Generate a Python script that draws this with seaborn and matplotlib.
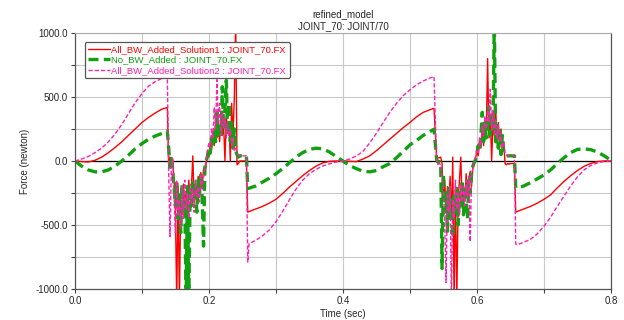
import numpy as np
import pandas as pd
import matplotlib
matplotlib.use("Agg")
import matplotlib.pyplot as plt
import seaborn as sns

# time samples (sec): smooth parts coarse, impact (chatter) parts fine
time_a = np.round(np.arange(0.0, 0.135, 0.01), 3).tolist() + [0.138]
time_hit1 = np.round(np.arange(0.140, 0.2565, 0.002), 3).tolist() + [0.258, 0.260]
time_b = np.round(np.arange(0.27, 0.535, 0.01), 3).tolist() + [0.536]
time_hit2 = np.round(np.arange(0.540, 0.6565, 0.002), 3).tolist() + [0.658, 0.660]
time_c = np.round(np.arange(0.67, 0.805, 0.01), 3).tolist()

# All_BW_Added_Solution1 (newton)
sol1_a = [0, -5, -8, 5, 30, 65, 105, 150, 200, 250, 300, 340, 375, 405, 418]
sol1_hit1 = [-20, 30, -40, 10,
             -150, -380, -1100, -200, -1100, -300, -420, -180, -350, -240, -400, -150,
             -300, -200, 40, -330, -170, -280, -120, -250, -90, -200, -60, -110,
             -20,
             60, 30, 150, 90, 220, 120, 300, 180, 260, 150, 330, 200, 280, 0, 350,
             220, 300, 0, 450, 200, 500, 1100,
             -30, -20, 0, 0, 0, 0, 0, 0,
             -400, -395]
sol1_b = [-375, -355, -330, -300, -255, -205, -160, -115, -75, -40, -15, -3, 0, 0,
          -3, -5, 15, 40, 80, 125, 170, 215, 260, 300, 345, 380, 400, 412]
sol1_hit2 = [20, 25, 25, 30, -20,
             -300, -150, -400, -200, -350, -120, -450, 30, -1100, -200, -1100, -300,
             -150, 30, -350, -200, -300, -100, -250, -150, -80, -200, -50, -30,
             20, 80, 40, 150, 100, 250, 120, 300, 200, 800, 180, 350, 0, 280, 200,
             420, 150, 300, 100, 250, 60, 150, -20, -30,
             -20, -25, -20, -20, -20, -20,
             -400, -395]
sol1_c = [-375, -355, -330, -300, -265, -210, -160, -115, -75, -42, -18, -5, 0, 0]

# No_BW_Added
nobw_a = [0, -40, -70, -85, -85, -70, -40, 0, 45, 95, 135, 170, 195, 215, 235]
nobw_hit1 = [100, -50, 20, -80,
             -200, -350, -150, -450, -250, -560, -180, -400, -300, -1100, -200, -1100,
             -250, -350, -150, -300, -200, -400, -150, -250, -100, -300, -665, -50,
             0,
             40, 100, 60, 180, 120, 250, 150, 380, 200, 300, 180, 580, 250, 400, 630,
             200, 450, 150, 300, 100, 250, 80,
             50, 30, 40, 40, 40, 40, 40, 40,
             -215, -213]
nobw_b = [-195, -165, -135, -100, -60, -15, 30, 65, 90, 100, 95, 70, 35, 0,
          -35, -60, -80, -85, -75, -45, -20, 25, 75, 125, 160, 200, 230, 248]
nobw_hit2 = [10, -10, -5, -10, -840,
             -100, -400, -250, -550, -200, -450, -300, -600, -250, -400, -200, -500,
             -250, -350, -150, -420, -200, -300, -450, -150, -250, -100, -40, -10,
             10, 60, 120, 80, 200, 380, 150, 300, 180, 250, 420, 200, 350, 250, 1100,
             150, 300, 100, 250, 50, 200, 80, 50, 40,
             40, 40, 40, 40, 40, 40,
             -215, -213]
nobw_c = [-195, -170, -140, -110, -70, -20, 25, 65, 90, 95, 88, 70, 40, 5]

# All_BW_Added_Solution2
sol2_a = [0, 15, 35, 65, 100, 150, 210, 285, 370, 455, 525, 585, 620, 645, 655]
sol2_hit1 = [-100, -590, -50, 20,
             -250, -560, -150, -420, -300, -520, -200, -450, -150, -380, -250, -450,
             -180, -330, -220, -400, -150, -280, -200, -320, -100, -220, -130, -60,
             10,
             80, 140, 100, 250, 180, 420, 250, 635, 300, 450, 200, 380, 260, 330, 180,
             300, 200, 250, 120, 180, 80, 100,
             60, 45, 40, 40, 40, 40, 40, 40,
             -790, -645]
sol2_b = [-620, -585, -540, -475, -395, -305, -220, -150, -100, -65, -40, -22, -8, 0,
          15, 38, 75, 140, 215, 300, 380, 450, 510, 555, 595, 625, 648, 660]
sol2_hit2 = [-25, -25, -20, -30, -150,
             -200, -500, -950, -250, -400, -200, -1100, -300, -450, -150, -380, -250,
             -420, -180, -320, -200, -350, -150, -280, -120, -630, -100, -60, 10,
             30, 80, 60, 180, 120, 280, 200, 350, 250, 400, 300, 560, 250, 400, 200,
             320, 180, 280, 150, 220, 100, 150, 60, 45,
             40, 40, 40, 40, 40, 40,
             -650, -655]
sol2_c = [-635, -612, -570, -510, -440, -355, -275, -195, -125, -70, -35, -15, -4, 0]

time = time_a + time_hit1 + time_b + time_hit2 + time_c
df = pd.DataFrame({
    "time": time,
    "sol1": sol1_a + sol1_hit1 + sol1_b + sol1_hit2 + sol1_c,
    "nobw": nobw_a + nobw_hit1 + nobw_b + nobw_hit2 + nobw_c,
    "sol2": sol2_a + sol2_hit1 + sol2_b + sol2_hit2 + sol2_c,
})

sns.set_style("whitegrid")
plt.rcParams["font.family"] = ["Liberation Sans", "DejaVu Sans"]

fig = plt.figure(figsize=(6.24, 3.2), dpi=100)
ax = fig.add_axes([0.120, 0.097, 0.859, 0.800])

sns.lineplot(data=df, x="time", y="sol1", color="#FF0000", linewidth=1.0,
             estimator=None, sort=False, label="All_BW_Added_Solution1 : JOINT_70.FX", ax=ax)
sns.lineplot(data=df, x="time", y="nobw", color="#10A010", linewidth=2.4,
             linestyle=(0, (3, 1.6)), estimator=None, sort=False,
             label="No_BW_Added : JOINT_70.FX", ax=ax)
sns.lineplot(data=df, x="time", y="sol2", color="#FF20B0", linewidth=1.0,
             linestyle=(0, (3, 1.5)), estimator=None, sort=False,
             label="All_BW_Added_Solution2 : JOINT_70.FX", ax=ax)

ax.axhline(0, color="black", lw=0.9, zorder=1.5)

ax.set_xlim(0, 0.8)
ax.set_ylim(-1000, 1000)
ax.set_xticks([0.0, 0.2, 0.4, 0.6, 0.8])
ax.set_xticklabels(["0.0", "0.2", "0.4", "0.6", "0.8"])
ax.set_xticks([0.1, 0.3, 0.5, 0.7], minor=True)
ax.set_yticks([-1000, -500, 0, 500, 1000])
ax.set_yticklabels(["-1000.0", "-500.0", "0.0", "500.0", "1000.0"])
ax.set_yticks([-750, -250, 250, 750], minor=True)
ax.grid(True, which="both", color="#C8C8C8", lw=0.8)
ax.tick_params(which="both", direction="out", length=3, width=0.8, color="#444444",
               labelsize=7, pad=2, bottom=True, left=True)
for side in ["left", "bottom", "right"]:
    ax.spines[side].set_color("#555555")
    ax.spines[side].set_linewidth(0.9)
ax.spines["top"].set_color("#AAAAAA")

ax.set_xlabel("Time (sec)", fontsize=7, labelpad=2)
ax.set_ylabel("Force (newton)", fontsize=7, labelpad=4)
ax.set_title("refined_model\nJOINT_70: JOINT/70", fontsize=7, pad=3, linespacing=1.15)

leg = ax.legend(loc="upper left", bbox_to_anchor=(0.018, 0.965), borderaxespad=0,
                fontsize=6.8, frameon=True, fancybox=True, labelcolor="linecolor",
                handlelength=2.3, handletextpad=0.2, labelspacing=0.15, borderpad=0.35)
leg.get_frame().set_edgecolor("#555555")
leg.get_frame().set_linewidth(0.9)
leg.get_frame().set_alpha(1)

fig.savefig("out.png", dpi=100)
